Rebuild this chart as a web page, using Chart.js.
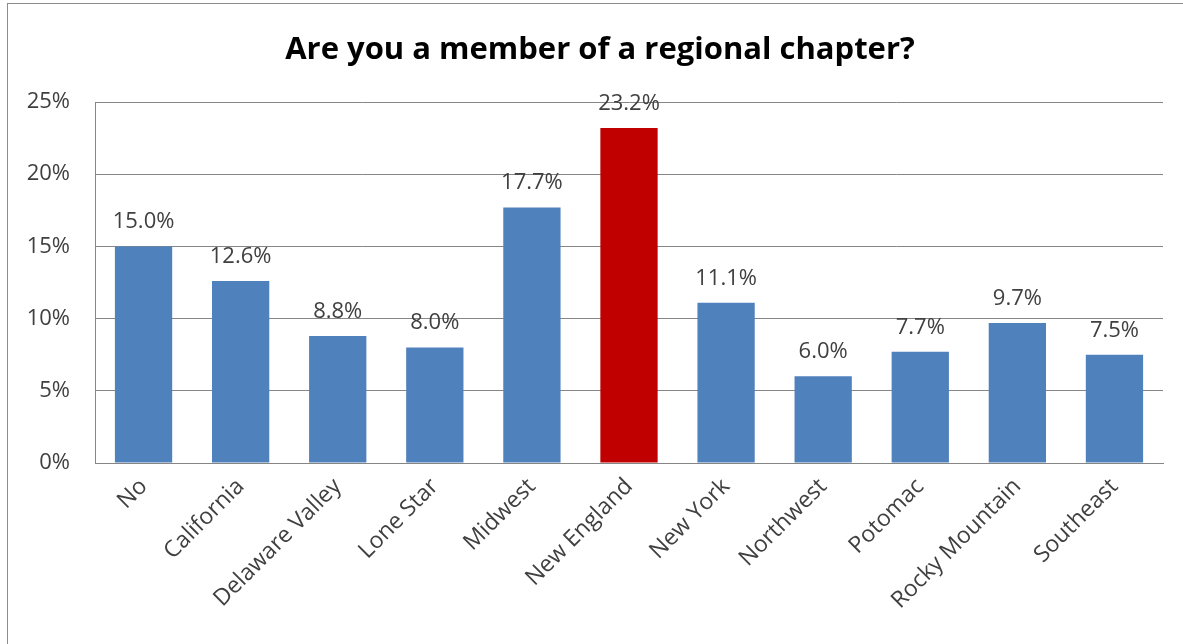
<!DOCTYPE html>
<html>
<head>
<meta charset="utf-8">
<script src="https://cdn.jsdelivr.net/npm/chart.js@4.4.1/dist/chart.umd.min.js"></script>
<style>
    html, body { margin: 0; padding: 0; background: #fff; }
    #wrap { width: 1183px; height: 644px; position: relative; }
</style>
</head>
<body>
<div id="wrap"><canvas id="chapterChart"></canvas></div>
<script>
// data
const chapters = ['No', 'California', 'Delaware Valley', 'Lone Star', 'Midwest', 'New England',
    'New York', 'Northwest', 'Potomac', 'Rocky Mountain', 'Southeast'];
const shares = [15.0, 12.6, 8.8, 8.0, 17.7, 23.2, 11.1, 6.0, 7.7, 9.7, 7.5];
const barColors = ['#4F81BD', '#4F81BD', '#4F81BD', '#4F81BD', '#4F81BD', '#C00000',
    '#4F81BD', '#4F81BD', '#4F81BD', '#4F81BD', '#4F81BD'];
const yTicks = [0, 5, 10, 15, 20, 25];
const chartTitle = 'Are you a member of a regional chapter?';

const FONT = "'Open Sans', sans-serif";

// labels above the bars
const valueLabels = {
    id: 'valueLabels',
    afterDatasetsDraw(chart) {
        const ctx = chart.ctx;
        const meta = chart.getDatasetMeta(0);
        ctx.save();
        ctx.fillStyle = '#404040';
        ctx.font = '22px ' + FONT;
        ctx.textAlign = 'center';
        ctx.textBaseline = 'alphabetic';
        meta.data.forEach((bar, i) => {
            ctx.fillText(shares[i].toFixed(1) + '%', bar.x, bar.y - 18);
        });
        ctx.restore();
    }
};

// chart border (left and top edges visible) and the title, centred on the whole frame
const frameAndTitle = {
    id: 'frameAndTitle',
    beforeDraw(chart) {
        const ctx = chart.ctx;
        ctx.save();
        ctx.strokeStyle = '#8c8c8c';
        ctx.lineWidth = 1;
        ctx.strokeRect(7.5, 3.5, 1200, 700);
        ctx.fillStyle = '#000';
        ctx.font = 'bold 31px ' + FONT;
        ctx.textAlign = 'center';
        ctx.textBaseline = 'middle';
        ctx.fillText(chartTitle, 600, 50);
        ctx.restore();
    }
};

new Chart(document.getElementById('chapterChart').getContext('2d'), {
    type: 'bar',
    data: {
        labels: chapters,
        datasets: [{
            data: shares,
            backgroundColor: barColors,
            borderWidth: 0,
            categoryPercentage: 1,
            barPercentage: 0.59
        }]
    },
    options: {
        responsive: true,
        maintainAspectRatio: false,
        animation: false,
        layout: { padding: { left: 8, right: 20, top: 102, bottom: 0 } },
        plugins: {
            legend: { display: false },
            tooltip: { enabled: false },
            title: { display: false }
        },
        scales: {
            x: {
                grid: { display: false, drawTicks: false },
                border: { color: '#868686', width: 1 },
                ticks: {
                    color: '#404040',
                    font: { family: FONT, size: 23 },
                    maxRotation: 45,
                    minRotation: 45,
                    padding: 10
                },
                afterFit(scale) { scale.height = 181; }
            },
            y: {
                min: 0,
                max: 25,
                afterBuildTicks(scale) { scale.ticks = yTicks.map(v => ({ value: v })); },
                grid: { color: '#868686', drawTicks: false },
                border: { color: '#868686', width: 1 },
                ticks: {
                    color: '#404040',
                    font: { family: FONT, size: 22 },
                    padding: 25,
                    callback: v => v + '%'
                },
                afterFit(scale) { scale.width = 87; }
            }
        }
    },
    plugins: [valueLabels, frameAndTitle]
});
</script>
</body>
</html>
